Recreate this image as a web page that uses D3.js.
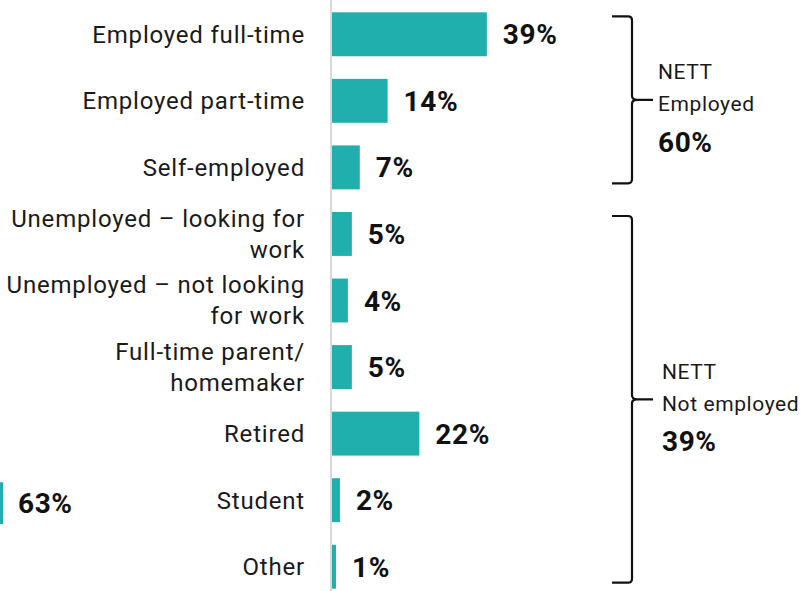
<!DOCTYPE html>
<html>
<head>
<meta charset="utf-8">
<script src="https://cdn.jsdelivr.net/npm/d3@7"></script>
<style>
  html, body { margin: 0; padding: 0; background: #fff; }
  svg { display: block; font-family: Roboto, "Noto Sans", sans-serif; }
</style>
</head>
<body>
<div id="chart"></div>
<script>
// 데이터
const categories = [
    ['Employed full-time'],
    ['Employed part-time'],
    ['Self-employed'],
    ['Unemployed \u2013 looking for', 'work'],
    ['Unemployed \u2013 not looking', 'for work'],
    ['Full-time parent/', 'homemaker'],
    ['Retired'],
    ['Student'],
    ['Other']
];
const values = [39, 14, 7, 5, 4, 5, 22, 2, 1];

// 묶음(NETT) 정보
const groupNames = ['Employed', 'Not employed'];
const groupTotals = [60, 39];
const groupFirst = [0, 3];
const groupLast = [2, 8];

// 잘려서 보이는 왼쪽 막대
const strayRow = 7;
const strayValue = 63;

const width = 805, height = 591;
const teal = '#20afac';

const svg = d3.select('#chart').append('svg')
    .attr('width', width)
    .attr('height', height);

const y = d3.scaleBand()
    .domain(d3.range(categories.length))
    .range([1, 600])
    .paddingInner(0.34)
    .paddingOuter(0.17);

const x = d3.scaleLinear().domain([0, 100]).range([332, 729]);

// 세로 축선
svg.append('line')
    .attr('x1', 331).attr('x2', 331)
    .attr('y1', 0).attr('y2', height)
    .attr('stroke', '#d9d9d9')
    .attr('stroke-width', 2);

// 막대
svg.selectAll('.bar')
    .data(values)
    .join('rect')
    .attr('class', 'bar')
    .attr('x', x(0))
    .attr('y', (d, i) => y(i))
    .attr('width', d => x(d) - x(0))
    .attr('height', y.bandwidth())
    .attr('fill', teal);

// 값 라벨
svg.selectAll('.val')
    .data(values)
    .join('text')
    .attr('class', 'val')
    .attr('x', d => x(d) + 16)
    .attr('y', (d, i) => y(i) + y.bandwidth() / 2)
    .attr('dy', '0.36em')
    .attr('font-size', 28)
    .attr('font-weight', 700)
    .attr('letter-spacing', 0.6)
    .attr('fill', '#111')
    .text(d => d + '%');

// 카테고리 라벨 (오른쪽 정렬)
const lineH = 31;
svg.selectAll('.cat')
    .data(categories)
    .join('text')
    .attr('class', 'cat')
    .attr('text-anchor', 'end')
    .attr('font-size', 24)
    .attr('letter-spacing', 0.8)
    .attr('fill', '#1a1a1a')
    .each(function(lines, i) {
        const cy = y(i) + y.bandwidth() / 2;
        const top = cy - (lines.length - 1) * lineH / 2;
        d3.select(this).selectAll('tspan')
            .data(lines)
            .join('tspan')
            .attr('x', 305)
            .attr('y', (l, j) => top + j * lineH)
            .attr('dy', '0.35em')
            .text(l => l);
    });

// 괄호 + NETT 라벨
const bx = 632;
groupNames.forEach((name, gi) => {
    const y0 = y(groupFirst[gi]) + 4;
    const y1 = y(groupLast[gi]) + y.bandwidth() - 6;
    const ym = (y0 + y1) / 2;
    const path = d3.path();
    path.moveTo(bx - 20, y0);
    path.lineTo(bx - 4, y0);
    path.quadraticCurveTo(bx, y0, bx, y0 + 4);
    path.lineTo(bx, ym - 4);
    path.quadraticCurveTo(bx, ym, bx + 5, ym);
    path.lineTo(bx + 21, ym);
    path.moveTo(bx + 5, ym);
    path.quadraticCurveTo(bx, ym, bx, ym + 4);
    path.lineTo(bx, y1 - 4);
    path.quadraticCurveTo(bx, y1, bx - 4, y1);
    path.lineTo(bx - 20, y1);
    svg.append('path')
        .attr('d', path.toString())
        .attr('fill', 'none')
        .attr('stroke', '#111')
        .attr('stroke-width', 2.2);

    const tx = gi === 0 ? 658 : 662;
    svg.append('text')
        .attr('x', tx).attr('y', ym - 28)
        .attr('dy', '0.35em')
        .attr('font-size', 21)
        .attr('letter-spacing', 0.6)
        .attr('fill', '#1a1a1a')
        .text('NETT');
    svg.append('text')
        .attr('x', tx).attr('y', ym + 4)
        .attr('dy', '0.35em')
        .attr('font-size', 21)
        .attr('letter-spacing', 0.6)
        .attr('fill', '#1a1a1a')
        .text(name);
    svg.append('text')
        .attr('x', tx).attr('y', ym + 42)
        .attr('dy', '0.36em')
        .attr('font-size', 28)
        .attr('font-weight', 700)
        .attr('letter-spacing', 0.6)
        .attr('fill', '#111')
        .text(groupTotals[gi] + '%');
});

// 왼쪽 가장자리에 잘린 막대
const xs = d3.scaleLinear().domain([0, strayValue]).range([-250, 3]);
svg.append('rect')
    .attr('x', xs(0))
    .attr('y', y(strayRow) + 4)
    .attr('width', xs(strayValue) - xs(0))
    .attr('height', y.bandwidth() - 2)
    .attr('fill', teal);
svg.append('text')
    .attr('x', xs(strayValue) + 15)
    .attr('y', y(strayRow) + 4 + (y.bandwidth() - 2) / 2)
    .attr('dy', '0.36em')
    .attr('font-size', 28)
    .attr('font-weight', 700)
    .attr('letter-spacing', 0.6)
    .attr('fill', '#111')
    .text(strayValue + '%');
</script>
</body>
</html>
